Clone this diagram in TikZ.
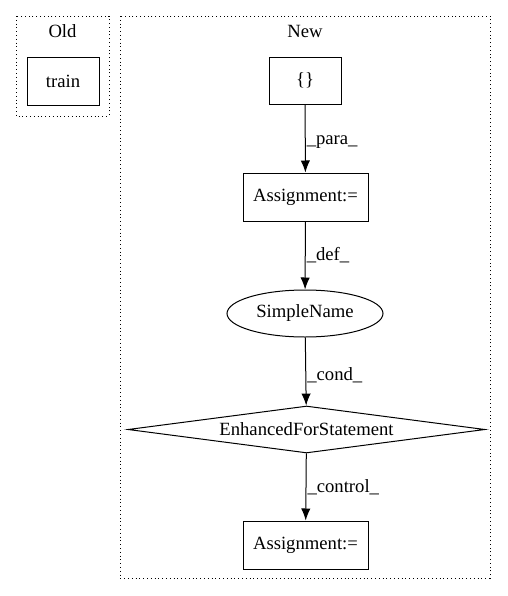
\documentclass[tikz,border=0pt]{standalone}
\usepackage{fontspec}
\setmainfont{Liberation Serif}
\usetikzlibrary{shapes.geometric,arrows.meta}
\begin{document}
\begin{tikzpicture}[x=0.75pt,y=-0.75pt,
  every node/.style={font=\fontsize{14pt}{16pt}\selectfont},
  cluster/.style={draw,line width=0.75pt,dash pattern=on 0.75pt off 2.1pt},
  boxnode/.style={draw,line width=0.75pt,rectangle,inner sep=0pt,minimum height=36pt},
  ellnode/.style={draw,line width=0.75pt,ellipse,inner sep=0pt,minimum width=117pt,minimum height=35.25pt},
  dianode/.style={draw,line width=0.75pt,diamond,shape aspect=7.6,inner sep=0pt,minimum width=267.75pt,minimum height=35.25pt},
  edge/.style={line width=0.75pt,-{Latex[length=9pt,width=7pt]}},
  elabel/.style={anchor=west,inner sep=0pt}]
\useasboundingbox (0,0) rectangle (507,596);
% clusters
\draw[cluster] (16,16) rectangle (109,116);
\node (oldlbl) at (62.5,31) {Old};
\draw[cluster] (120,16) rectangle (490,578);
\node (newlbl) at (305,31) {New};
% nodes
\node[boxnode,minimum width=54pt] (train) at (63,81) {train};
\node[boxnode,minimum width=54pt,minimum height=35.25pt] (brace) at (305,80.5) {\{\}};
\node[boxnode,minimum width=93.75pt] (assign1) at (305.5,197) {Assignment:=};
\node[ellnode] (simple) at (305,313.5) {SimpleName};
\node[dianode] (efor) at (306.5,429.5) {EnhancedForStatement};
\node[boxnode,minimum width=93.75pt] (assign2) at (305.5,545) {Assignment:=};
% edges
\draw[edge] (brace) -- (assign1) node[pos=0.55,elabel,xshift=0.75pt] {\_para\_};
\draw[edge] (assign1) -- (simple) node[pos=0.5,elabel,xshift=0.75pt] {\_def\_};
\draw[edge] (simple) -- (efor) node[pos=0.55,elabel,xshift=0.75pt] {\_cond\_};
\draw[edge] (efor) -- (assign2) node[pos=0.5,elabel,xshift=0.75pt] {\_control\_};
\end{tikzpicture}
\end{document}
